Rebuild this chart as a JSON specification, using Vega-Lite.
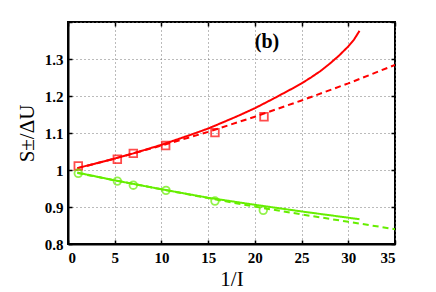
{
  "$schema": "https://vega.github.io/schema/vega-lite/v6.json",
  "width": 327,
  "height": 222,
  "autosize": {"type": "none"},
  "padding": {"left": 68, "top": 22, "right": 41, "bottom": 48},
  "background": "white",
  "config": {
    "view": {"stroke": "black", "strokeWidth": 2},
    "axis": {
      "labelFont": "Liberation Serif",
      "labelFontWeight": "bold",
      "labelFontSize": 15,
      "labelColor": "black",
      "titleFont": "Liberation Serif",
      "titleFontWeight": "normal",
      "titleFontSize": 21,
      "titleColor": "black",
      "domainColor": "black",
      "domainWidth": 2,
      "tickColor": "black",
      "tickWidth": 1.5,
      "gridColor": "#777777",
      "gridDash": [1, 3],
      "gridWidth": 1
    }
  },
  "datasets": {
    "curves": [
      {"x": 1, "y": 1.005, "series": "plus", "kind": "solid"},
      {"x": 3, "y": 1.018, "series": "plus", "kind": "solid"},
      {"x": 5, "y": 1.031, "series": "plus", "kind": "solid"},
      {"x": 7, "y": 1.045, "series": "plus", "kind": "solid"},
      {"x": 10, "y": 1.068, "series": "plus", "kind": "solid"},
      {"x": 13, "y": 1.094, "series": "plus", "kind": "solid"},
      {"x": 15, "y": 1.112, "series": "plus", "kind": "solid"},
      {"x": 18, "y": 1.144, "series": "plus", "kind": "solid"},
      {"x": 20, "y": 1.167, "series": "plus", "kind": "solid"},
      {"x": 22, "y": 1.193, "series": "plus", "kind": "solid"},
      {"x": 24, "y": 1.220, "series": "plus", "kind": "solid"},
      {"x": 25, "y": 1.234, "series": "plus", "kind": "solid"},
      {"x": 26, "y": 1.250, "series": "plus", "kind": "solid"},
      {"x": 27, "y": 1.267, "series": "plus", "kind": "solid"},
      {"x": 28, "y": 1.287, "series": "plus", "kind": "solid"},
      {"x": 29, "y": 1.309, "series": "plus", "kind": "solid"},
      {"x": 30, "y": 1.334, "series": "plus", "kind": "solid"},
      {"x": 30.6, "y": 1.352, "series": "plus", "kind": "solid"},
      {"x": 31.2, "y": 1.376, "series": "plus", "kind": "solid"},
      {"x": 1, "y": 1.005, "series": "plus", "kind": "dashed"},
      {"x": 5, "y": 1.031, "series": "plus", "kind": "dashed"},
      {"x": 10, "y": 1.066, "series": "plus", "kind": "dashed"},
      {"x": 15, "y": 1.103, "series": "plus", "kind": "dashed"},
      {"x": 20, "y": 1.144, "series": "plus", "kind": "dashed"},
      {"x": 25, "y": 1.188, "series": "plus", "kind": "dashed"},
      {"x": 30, "y": 1.234, "series": "plus", "kind": "dashed"},
      {"x": 35, "y": 1.284, "series": "plus", "kind": "dashed"},
      {"x": 1, "y": 0.993, "series": "minus", "kind": "solid"},
      {"x": 5, "y": 0.972, "series": "minus", "kind": "solid"},
      {"x": 10, "y": 0.948, "series": "minus", "kind": "solid"},
      {"x": 15, "y": 0.925, "series": "minus", "kind": "solid"},
      {"x": 20, "y": 0.906, "series": "minus", "kind": "solid"},
      {"x": 25, "y": 0.888, "series": "minus", "kind": "solid"},
      {"x": 31.2, "y": 0.867, "series": "minus", "kind": "solid"},
      {"x": 1, "y": 0.992, "series": "minus", "kind": "dashed"},
      {"x": 5, "y": 0.972, "series": "minus", "kind": "dashed"},
      {"x": 10, "y": 0.948, "series": "minus", "kind": "dashed"},
      {"x": 15, "y": 0.924, "series": "minus", "kind": "dashed"},
      {"x": 20, "y": 0.901, "series": "minus", "kind": "dashed"},
      {"x": 25, "y": 0.880, "series": "minus", "kind": "dashed"},
      {"x": 30, "y": 0.860, "series": "minus", "kind": "dashed"},
      {"x": 35, "y": 0.840, "series": "minus", "kind": "dashed"}
    ],
    "points": [
      {"x": 1.1, "y": 1.011, "series": "plus"},
      {"x": 5.28, "y": 1.029, "series": "plus"},
      {"x": 6.99, "y": 1.045, "series": "plus"},
      {"x": 10.45, "y": 1.066, "series": "plus"},
      {"x": 15.73, "y": 1.101, "series": "plus"},
      {"x": 20.98, "y": 1.144, "series": "plus"},
      {"x": 1.1, "y": 0.991, "series": "minus"},
      {"x": 5.28, "y": 0.970, "series": "minus"},
      {"x": 6.99, "y": 0.959, "series": "minus"},
      {"x": 10.49, "y": 0.945, "series": "minus"},
      {"x": 15.73, "y": 0.916, "series": "minus"},
      {"x": 20.9, "y": 0.891, "series": "minus"}
    ],
    "labels": [
      {"x": 21.3, "y": 1.346, "text": "(b)"}
    ]
  },
  "resolve": {"axis": {"x": "independent", "y": "independent"}},
  "layer": [
    {
      "data": {"name": "curves"},
      "mark": {"type": "line", "strokeWidth": 2, "clip": true},
      "encoding": {
        "x": {"field": "x", "type": "quantitative",
              "scale": {"domain": [0, 35], "nice": false, "zero": false},
              "axis": {"title": "1/I", "values": [0, 5, 10, 15, 20, 25, 30, 35],
                       "tickSize": -4, "labelPadding": 10, "titlePadding": 3, "grid": true}},
        "y": {"field": "y", "type": "quantitative",
              "scale": {"domain": [0.8, 1.4], "nice": false, "zero": false},
              "axis": {"title": "S±/ΔU", "values": [0.8, 0.9, 1, 1.1, 1.2, 1.3, 1.4],
                       "labelExpr": "datum.value > 1.35 ? '' : datum.label",
                       "format": "~g", "tickSize": -4, "labelPadding": 9, "titlePadding": 7, "grid": true}},
        "color": {"field": "series", "type": "nominal",
                  "scale": {"domain": ["plus", "minus"], "range": ["#ff0000", "#66ee00"]},
                  "legend": null},
        "strokeDash": {"field": "kind", "type": "nominal",
                       "scale": {"domain": ["solid", "dashed"], "range": [[1, 0], [6, 4]]},
                       "legend": null},
        "detail": {"field": "kind"}
      }
    },
    {
      "data": {"name": "points"},
      "mark": {"type": "point", "filled": false, "strokeWidth": 1.8, "size": 58},
      "encoding": {
        "x": {"field": "x", "type": "quantitative",
              "axis": {"orient": "top", "title": null, "labels": false, "domain": false,
                       "values": [0, 5, 10, 15, 20, 25, 30, 35], "tickSize": -4, "grid": false}},
        "y": {"field": "y", "type": "quantitative",
              "axis": {"orient": "right", "title": null, "labels": false, "domain": false,
                       "values": [0.8, 0.9, 1, 1.1, 1.2, 1.3, 1.4], "tickSize": -4, "grid": false}},
        "color": {"field": "series", "type": "nominal", "legend": null},
        "shape": {"field": "series", "type": "nominal",
                  "scale": {"domain": ["plus", "minus"], "range": ["square", "circle"]},
                  "legend": null}
      }
    },
    {
      "data": {"name": "labels"},
      "mark": {"type": "text", "font": "Liberation Serif", "fontWeight": "bold", "fontSize": 20,
               "align": "center", "baseline": "middle", "color": "black"},
      "encoding": {
        "x": {"field": "x", "type": "quantitative", "axis": null},
        "y": {"field": "y", "type": "quantitative", "axis": null},
        "text": {"field": "text"}
      }
    }
  ]
}
